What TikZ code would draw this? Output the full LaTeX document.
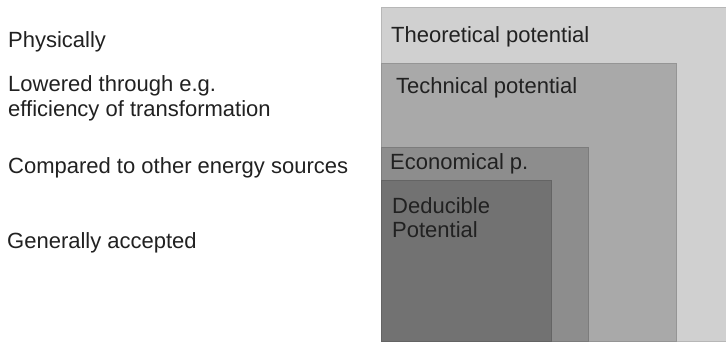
\documentclass[tikz,border=0pt]{standalone}
\usepackage{fontspec}
\setmainfont{Liberation Sans}
\begin{document}
\begin{tikzpicture}[x=1pt,y=-1pt,
  lbl/.style={anchor=base west, inner sep=0pt, text=black!87, font=\fontsize{22}{25}\selectfont, align=left},
  pbox/.style={draw=#1!88!black, line width=0.6pt, fill=#1}]
\definecolor{cTheo}{HTML}{D0D0D0}
\definecolor{cTech}{HTML}{A9A9A9}
\definecolor{cEcon}{HTML}{8D8D8D}
\definecolor{cDed}{HTML}{727272}
\useasboundingbox (0,0) rectangle (726,342);
\fill[white] (0,0) rectangle (726,342);
% nested boxes
\path[pbox=cTheo] (381,7) rectangle (727,341);
\path[pbox=cTech] (381,63) rectangle (676,341);
\path[pbox=cEcon] (381,147) rectangle (588,341);
\path[pbox=cDed]  (381,180) rectangle (551,341);
% box labels
\node[lbl] (theo) at (391,43) {Theoretical potential};
\node[lbl] (tech) at (396,94) {Technical potential};
\node[lbl] (econ) at (390,170) {Economical p.};
\node[lbl, font=\fontsize{22}{24}\selectfont] (ded) at (392,237) {Deducible\\Potential};
% left labels
\node[lbl] (phys) at (8,48) {Physically};
\node[lbl] (low) at (8,117) {Lowered through e.g.\\efficiency of transformation};
\node[lbl] (comp) at (8,174) {Compared to other energy sources};
\node[lbl] (gen) at (7,248) {Generally accepted};
\end{tikzpicture}
\end{document}
